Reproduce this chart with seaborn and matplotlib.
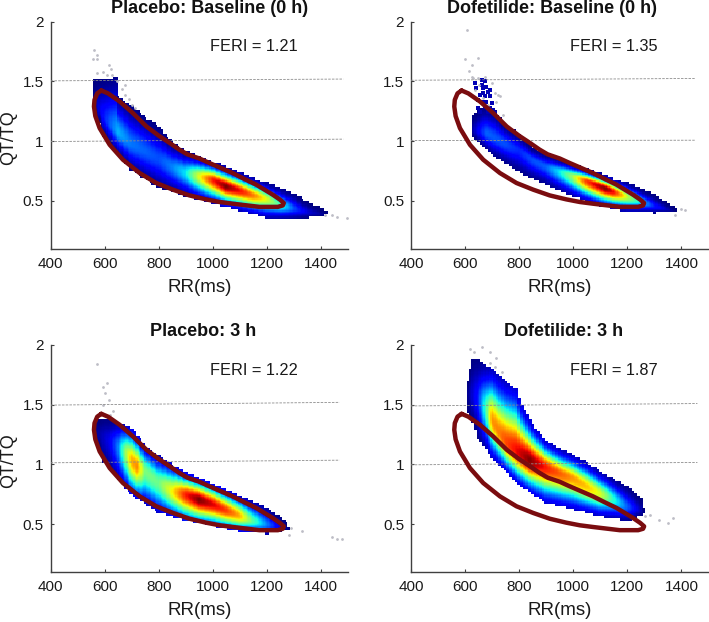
import numpy as np
import pandas as pd
import matplotlib
matplotlib.use('Agg')
import matplotlib.pyplot as plt
import seaborn as sns

# reference loop (same in every panel), read clockwise from the top tip
loop_rr = [587, 612, 655, 704, 754, 800, 840, 875, 905, 950, 987, 1030, 1073, 1115, 1160, 1221, 1248, 1262, 1258, 1240, 1172,
           1072, 1024, 974, 913, 852, 790, 729, 667, 618, 581, 565, 560, 562, 572, 587]
loop_q = [1.424, 1.40, 1.332, 1.235, 1.123, 1.045, 0.985, 0.93, 0.89, 0.855, 0.817, 0.775, 0.733, 0.685, 0.636, 0.552, 0.51, 0.482, 0.462, 0.45, 0.45,
          0.477, 0.491, 0.513, 0.546, 0.594, 0.65, 0.733, 0.845, 0.97, 1.109, 1.21, 1.29, 1.346, 1.40, 1.424]

titles = ['Placebo: Baseline (0 h)', 'Dofetilide: Baseline (0 h)', 'Placebo: 3 h', 'Dofetilide: 3 h']
feri = ['FERI = 1.21', 'FERI = 1.35', 'FERI = 1.22', 'FERI = 1.87']
title_rr = [987, 920, 965, 963]
band = [0.6, 0.6, 0.72, 0.64]

# density clouds: edges of the cloud, ridge and colour level on the ridge
pb_top_rr = [560, 640, 650, 700, 800, 850, 900, 1000, 1100, 1200, 1300, 1350, 1400, 1420]
pb_top = [1.50, 1.52, 1.37, 1.28, 1.11, 0.98, 0.91, 0.82, 0.73, 0.64, 0.55, 0.48, 0.43, 0.40]
pb_low_rr = [560, 580, 600, 650, 700, 800, 900, 1000, 1100, 1200, 1300, 1400, 1420]
pb_low = [1.29, 1.16, 1.04, 0.89, 0.76, 0.61, 0.54, 0.476, 0.42, 0.36, 0.35, 0.37, 0.40]
pb_ridge_rr = [560, 600, 650, 700, 800, 850, 900, 950, 1000, 1050, 1100, 1150, 1200, 1250, 1300, 1350, 1420]
pb_ridge = [1.35, 1.20, 1.08, 0.98, 0.86, 0.79, 0.74, 0.71, 0.68, 0.625, 0.59, 0.55, 0.52, 0.47, 0.44, 0.41, 0.39]
pb_peak = [0.02, 0.15, 0.30, 0.24, 0.20, 0.25, 0.35, 0.62, 0.88, 1.0, 0.90, 0.78, 0.62, 0.42, 0.20, 0.08, 0.01]

db_top_rr = [628, 667, 710, 750, 800, 850, 900, 1000, 1100, 1200, 1300, 1350, 1380]
db_top = [1.206, 1.28, 1.24, 1.13, 1.05, 0.94, 0.89, 0.80, 0.72, 0.64, 0.54, 0.47, 0.43]
db_low_rr = [628, 643, 692, 741, 815, 889, 938, 1000, 1100, 1200, 1300, 1380]
db_low = [1.03, 1.0, 0.90, 0.83, 0.72, 0.65, 0.594, 0.538, 0.46, 0.41, 0.40, 0.41]
db_ridge_rr = [628, 680, 750, 800, 850, 900, 950, 1000, 1050, 1120, 1150, 1200, 1250, 1300, 1350, 1380]
db_ridge = [1.10, 1.07, 0.98, 0.93, 0.85, 0.79, 0.75, 0.71, 0.67, 0.61, 0.58, 0.54, 0.50, 0.46, 0.43, 0.42]
db_peak = [0.03, 0.22, 0.20, 0.16, 0.20, 0.22, 0.35, 0.55, 0.85, 1.0, 0.90, 0.60, 0.35, 0.15, 0.05, 0.0]

# loose dark blue cells above the Dofetilide baseline cloud
db_speck_rr = [661, 673, 667, 642, 685, 655, 673, 692, 661, 679, 698, 673, 655, 649, 692, 704, 661, 679, 649, 692, 667, 636, 710, 685]
db_speck_q = [1.513, 1.50, 1.443, 1.443, 1.415, 1.388, 1.374, 1.374, 1.332, 1.332, 1.318, 1.29, 1.248, 1.276, 1.276, 1.262,
              1.471, 1.457, 1.346, 1.43, 1.40, 1.485, 1.234, 1.248]

p3_top_rr = [570, 600, 650, 700, 750, 800, 900, 1000, 1100, 1200, 1260, 1280]
p3_top = [1.36, 1.37, 1.35, 1.29, 1.14, 1.06, 0.92, 0.83, 0.72, 0.625, 0.53, 0.47]
p3_low_rr = [570, 600, 650, 700, 800, 900, 1000, 1100, 1200, 1250, 1280]
p3_low = [1.20, 1.02, 0.875, 0.75, 0.60, 0.53, 0.49, 0.44, 0.42, 0.44, 0.46]
p3_ridge_rr = [570, 590, 620, 650, 680, 700, 720, 750, 800, 850, 900, 950, 1000, 1050, 1100, 1150, 1200, 1250, 1280]
p3_ridge = [1.28, 1.24, 1.20, 1.15, 1.10, 1.04, 0.99, 0.95, 0.85, 0.78, 0.75, 0.71, 0.67, 0.62, 0.575, 0.53, 0.50, 0.48, 0.47]
p3_peak = [0.02, 0.05, 0.10, 0.25, 0.55, 0.72, 0.76, 0.50, 0.48, 0.65, 0.88, 1.0, 0.92, 0.85, 0.72, 0.45, 0.25, 0.08, 0.01]

d3_top_rr = [612, 625, 640, 700, 750, 790, 810, 850, 900, 950, 1000, 1050, 1100, 1150, 1200, 1250, 1265]
d3_top = [1.69, 1.86, 1.875, 1.79, 1.68, 1.625, 1.49, 1.32, 1.19, 1.12, 1.07, 1.01, 0.93, 0.87, 0.80, 0.71, 0.60]
d3_low_rr = [612, 625, 650, 700, 750, 800, 850, 900, 1000, 1100, 1200, 1250, 1265]
d3_low = [1.43, 1.375, 1.22, 1.055, 0.945, 0.83, 0.75, 0.68, 0.625, 0.565, 0.53, 0.57, 0.60]
d3_ridge_rr = [612, 650, 680, 700, 730, 760, 800, 840, 880, 920, 960, 1000, 1050, 1100, 1150, 1200, 1250, 1265]
d3_ridge = [1.60, 1.55, 1.46, 1.375, 1.26, 1.17, 1.10, 1.04, 1.00, 0.96, 0.92, 0.89, 0.82, 0.76, 0.71, 0.65, 0.62, 0.60]
d3_peak = [0.02, 0.15, 0.45, 0.75, 0.78, 0.85, 0.92, 1.0, 0.92, 0.85, 0.80, 0.75, 0.70, 0.62, 0.40, 0.22, 0.05, 0.0]

# stray grey beats
pb_gray_rr = [561, 570, 555, 573, 617, 622, 570, 595, 610, 626, 644, 675, 663, 675, 688, 700, 712, 1416, 1441, 1460, 1494]
pb_gray_q = [1.763, 1.72, 1.69, 1.685, 1.64, 1.60, 1.57, 1.58, 1.555, 1.555, 1.50, 1.47, 1.44, 1.39, 1.35, 1.30, 1.275, 0.385, 0.38, 0.365, 0.355]
db_gray_rr = [606, 600, 649, 624, 614, 627, 673, 723, 741, 710, 630, 649, 698, 729, 716, 652, 636, 667, 685, 1375, 1400, 1412]
db_gray_q = [1.93, 1.69, 1.70, 1.64, 1.59, 1.535, 1.54, 1.39, 1.22, 1.40, 1.527, 1.527, 1.485, 1.374, 1.332, 1.47, 1.43, 1.36, 1.30, 0.385, 0.43, 0.425]
p3_gray_rr = [570, 610, 593, 601, 614, 595, 630, 620, 1287, 1330, 1280, 1441, 1460, 1478]
p3_gray_q = [1.84, 1.68, 1.65, 1.60, 1.54, 1.50, 1.445, 1.415, 0.47, 0.445, 0.41, 0.39, 0.38, 0.375]
d3_gray_rr = [618, 634, 661, 692, 692, 716, 710, 735, 1283, 1265, 1317, 1351, 1367]
d3_gray_q = [1.97, 1.945, 1.985, 1.94, 1.85, 1.89, 1.82, 1.77, 0.58, 0.57, 0.535, 0.51, 0.555]

# dashed guide lines are slightly tilted in the original: start and end of each
guide_rr = [[400, 1482], [400, 1449], [400, 1468], [400, 1459]]
guide_15 = [[1.505, 1.52], [1.51, 1.525], [1.497, 1.52], [1.49, 1.51]]
guide_10 = [[0.997, 1.017], [1.005, 1.008], [1.014, 1.036], [0.997, 1.017]]

panels = [
    (pb_top_rr, pb_top, pb_low_rr, pb_low, pb_ridge_rr, pb_ridge, pb_peak, pb_gray_rr, pb_gray_q),
    (db_top_rr, db_top, db_low_rr, db_low, db_ridge_rr, db_ridge, db_peak, db_gray_rr, db_gray_q),
    (p3_top_rr, p3_top, p3_low_rr, p3_low, p3_ridge_rr, p3_ridge, p3_peak, p3_gray_rr, p3_gray_q),
    (d3_top_rr, d3_top, d3_low_rr, d3_low, d3_ridge_rr, d3_ridge, d3_peak, d3_gray_rr, d3_gray_q),
]


def density_cells(top_rr, top, low_rr, low, ridge_rr, ridge, peak, width):
    # the cloud surface is a smooth fill between the anchors read above, not measured cell values
    rows = []
    for rr in np.arange(min(top_rr), max(top_rr) + 1, 5):
        # edges stay on a coarser 10 ms / 0.02 raster so they step like the original
        rr_edge = round(rr / 10) * 10
        hi = np.interp(rr_edge, top_rr, top)
        lo = np.interp(rr_edge, low_rr, low)
        mid = np.interp(rr, ridge_rr, ridge)
        level = np.interp(rr, ridge_rr, peak)
        for q in np.arange(0.1, 2.0, 0.01):
            q_edge = round(q / 0.02) * 0.02
            if q_edge < lo or q_edge > hi:
                continue
            if q >= mid:
                d = (q - mid) / max(hi - mid, 0.02)
            else:
                d = (mid - q) / max(mid - lo, 0.02)
            rows.append((rr, q, level * np.exp(-(d / width) ** 2)))
    return pd.DataFrame(rows, columns=['rr', 'q', 'v'])


sns.set_style('white')
plt.rcParams['font.family'] = ['Liberation Sans', 'DejaVu Sans']

W, H = 709, 622
fig = plt.figure(figsize=(W / 100, H / 100), dpi=100)
boxes = [(50.7, 21.7), (411, 21.7), (50.7, 345), (411, 345)]
jet = plt.get_cmap('jet')

for i, (left, top_px) in enumerate(boxes):
    ax = fig.add_axes([left / W, 1 - (top_px + 227) / H, 297.5 / W, 227 / H])
    top_rr, top, low_rr, low, ridge_rr, ridge, peak, gray_rr, gray_q = panels[i]

    cells = density_cells(top_rr, top, low_rr, low, ridge_rr, ridge, peak, band[i])
    sns.scatterplot(data=cells, x='rr', y='q', hue='v', palette=jet, hue_norm=(0, 1), marker='s',
                    s=2.4, linewidth=0, legend=False, ax=ax, zorder=2)
    if i == 1:
        sns.scatterplot(x=db_speck_rr, y=db_speck_q, color='#0000b4', marker='s', s=9, linewidth=0, legend=False, ax=ax, zorder=2)
    sns.scatterplot(x=gray_rr, y=gray_q, color='#bdbdc6', marker='o', s=4, linewidth=0, legend=False, ax=ax, zorder=3)
    for guide in (guide_15[i], guide_10[i]):
        sns.lineplot(x=guide_rr[i], y=guide, color='#8c8c8c', linewidth=0.6, linestyle=(0, (3, 1.5)), ax=ax, zorder=4)
    sns.lineplot(x=loop_rr, y=loop_q, sort=False, estimator=None, color='#7a0c0f', linewidth=3.2,
                 solid_joinstyle='round', ax=ax, zorder=5)

    ax.set_xlim(400, 1500)
    ax.set_ylim(0.1, 2)
    ax.set_xticks([400, 600, 800, 1000, 1200, 1400])
    ax.set_yticks([0.5, 1, 1.5, 2], ['0.5', '1', '1.5', '2'])
    ax.tick_params(direction='in', length=2.5, width=0.8, color='#404040', labelsize=11, labelcolor='#1a1a1a', pad=5, left=True, bottom=True)
    ax.tick_params(axis='x', pad=6)
    sns.despine(ax=ax)
    for side in ['left', 'bottom']:
        ax.spines[side].set_color('#404040')
        ax.spines[side].set_linewidth(1.0)

    ax.set_xlabel('RR(ms)', fontsize=13.5, color='#1a1a1a')
    ax.xaxis.set_label_coords(0.50, -0.133)
    if i in (0, 2):
        ax.set_ylabel('QT/TQ', fontsize=13, color='#1a1a1a')
        ax.yaxis.set_label_coords(-0.112, 0.49)
    else:
        ax.set_ylabel('')

    ax.text(title_rr[i], 2.112, titles[i], fontsize=13, fontweight='bold', ha='center', va='center', color='#111111')
    ax.text(988, 1.79, feri[i], fontsize=11.8, ha='left', va='center', color='#1a1a1a')

fig.savefig('out.png', dpi=100)
